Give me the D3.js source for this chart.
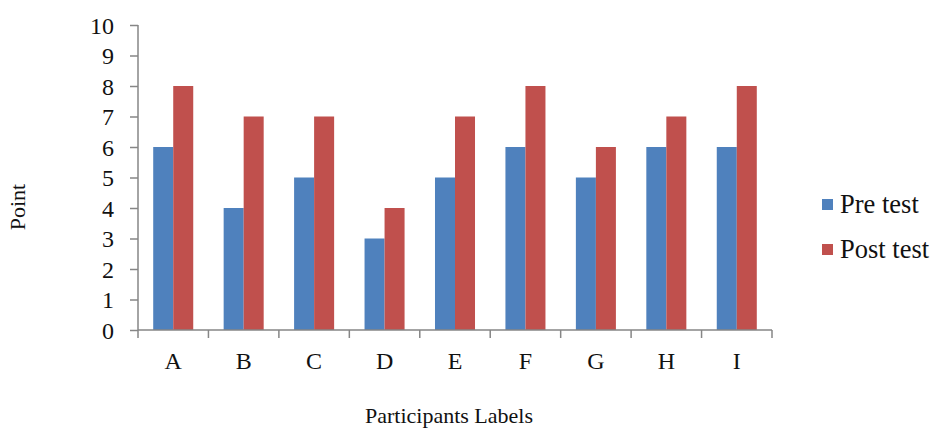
<!DOCTYPE html>
<html>
<head>
<meta charset="utf-8">
<script src="https://cdn.jsdelivr.net/npm/d3@7"></script>
<style>
  body { margin: 0; background: #fff; }
  svg text { font-family: "Liberation Serif", "DejaVu Serif", serif !important; fill: #111; }
</style>
</head>
<body>
<div id="chart"></div>
<script>
// donnees
var participants = ["A", "B", "C", "D", "E", "F", "G", "H", "I"];
var preTest  = [6, 4, 5, 3, 5, 6, 5, 6, 6];
var postTest = [8, 7, 7, 4, 7, 8, 6, 7, 8];
var seriesNames = ["Pre test", "Post test"];
var seriesColors = ["#4F81BD", "#C0504D"];
var yTicks = [0, 1, 2, 3, 4, 5, 6, 7, 8, 9, 10];

var W = 935, H = 428;
var margin = {top: 25, left: 138, right: 163, bottom: 98};
var width = W - margin.left - margin.right,
    height = H - margin.top - margin.bottom;

var svg = d3.select("#chart").append("svg")
    .attr("width", W)
    .attr("height", H)
    .attr("font-family", "Liberation Serif");

var g = svg.append("g")
    .attr("transform", "translate(" + margin.left + "," + margin.top + ")");

// echelles
var x = d3.scaleBand().domain(participants).range([0, width]).padding(0);
var xSub = d3.scaleBand().domain(seriesNames).range([0, x.bandwidth()])
    .paddingInner(0).paddingOuter(0.76);
var y = d3.scaleLinear().domain([0, 10]).range([height, 0]);

// barres
var rows = participants.map(function(p, i) {
    return {cat: p, values: [preTest[i], postTest[i]]};
});

var groups = g.selectAll(".grp")
    .data(rows)
    .enter().append("g")
    .attr("class", "grp")
    .attr("transform", function(d) { return "translate(" + x(d.cat) + ",0)"; });

groups.selectAll("rect")
    .data(function(d) { return d.values.map(function(v, k) { return {s: seriesNames[k], v: v, k: k}; }); })
    .enter().append("rect")
    .attr("x", function(d) { return xSub(d.s); })
    .attr("width", xSub.bandwidth())
    .attr("y", function(d) { return y(d.v); })
    .attr("height", function(d) { return height - y(d.v); })
    .style("fill", function(d) { return seriesColors[d.k]; });

// axe Y
var yAxis = g.append("g")
    .call(d3.axisLeft(y).tickValues(yTicks).tickSize(8).tickPadding(16).tickFormat(d3.format("d")));
yAxis.select(".domain").attr("stroke", "#868686").attr("stroke-width", 1.5)
    .attr("d", "M0,0V" + height);
yAxis.selectAll(".tick line").attr("stroke", "#868686").attr("stroke-width", 1.5);
yAxis.selectAll(".tick text").style("font-size", "24px").attr("dy", "0.35em");

// axe X
var xAxis = g.append("g")
    .attr("transform", "translate(0," + height + ")")
    .call(d3.axisBottom(x).tickSize(0).tickPadding(22));
xAxis.select(".domain").attr("stroke", "#868686").attr("stroke-width", 1.5)
    .attr("d", "M0,0H" + width);
xAxis.selectAll(".tick text").style("font-size", "24px");

// separateurs des categories
var bounds = participants.map(function(p) { return x(p); }).concat([width]);
xAxis.selectAll(".sep")
    .data(bounds)
    .enter().append("line")
    .attr("class", "sep")
    .attr("x1", function(d) { return d; })
    .attr("x2", function(d) { return d; })
    .attr("y1", 0)
    .attr("y2", 8)
    .attr("stroke", "#868686")
    .attr("stroke-width", 1.5);

// titres des axes
svg.append("text")
    .attr("x", 449)
    .attr("y", 423)
    .attr("text-anchor", "middle")
    .style("font-size", "22px")
    .text("Participants Labels");

svg.append("text")
    .attr("transform", "translate(25,207) rotate(-90)")
    .attr("text-anchor", "middle")
    .style("font-size", "22px")
    .text("Point");

// legende
var legend = svg.selectAll(".legend")
    .data(seriesNames)
    .enter().append("g")
    .attr("class", "legend")
    .attr("transform", function(d, i) { return "translate(822," + (199 + i * 45) + ")"; });

legend.append("rect")
    .attr("width", 11)
    .attr("height", 11)
    .style("fill", function(d, i) { return seriesColors[i]; });

legend.append("text")
    .attr("x", 18)
    .attr("y", 14)
    .style("font-size", "26.5px")
    .text(function(d) { return d; });
</script>
</body>
</html>
